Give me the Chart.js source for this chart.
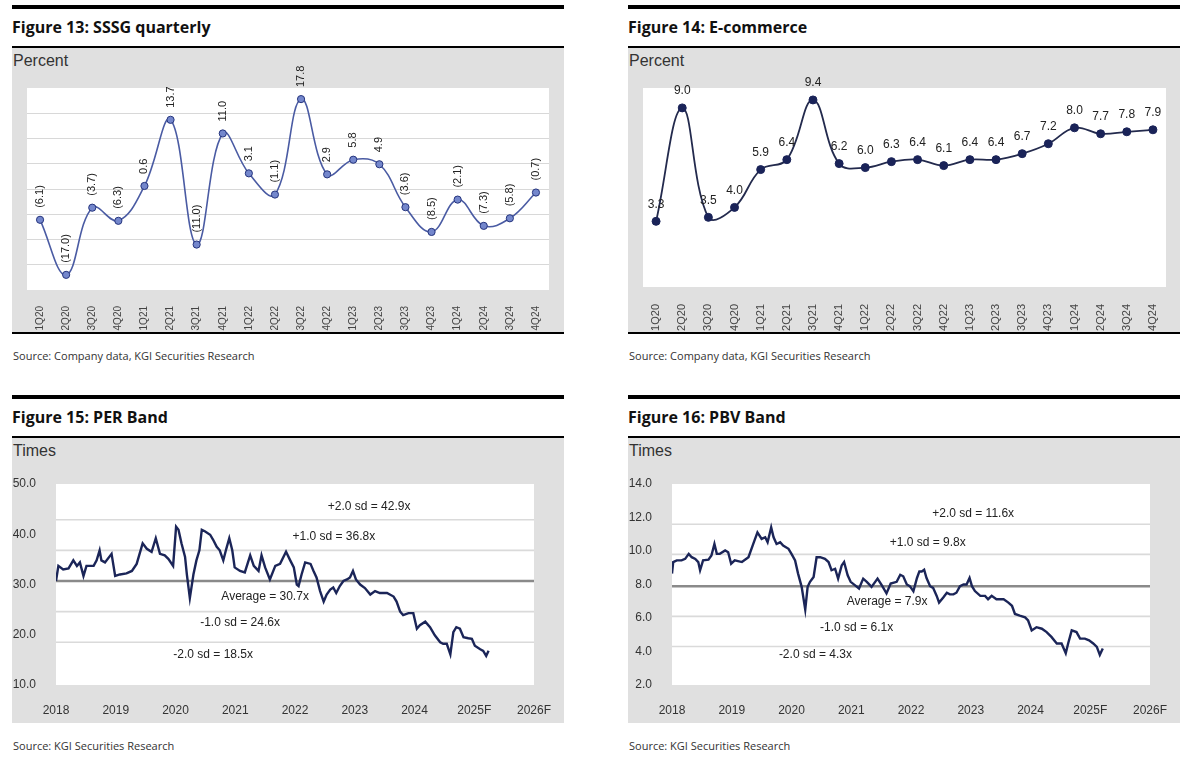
<!DOCTYPE html>
<html><head><meta charset="utf-8">
<script src="https://cdn.jsdelivr.net/npm/chart.js@4.4.1/dist/chart.umd.min.js"></script>
<style>
body{margin:0;background:#fff;width:1200px;height:766px;position:relative;overflow:hidden;font-family:"Liberation Sans",Arial,sans-serif;}
.bar{position:absolute;height:4px;width:552px;background:#000;}
.rule{position:absolute;height:2px;width:552px;background:#000;}
.title{position:absolute;font:bold 16px/22px "Open Sans",sans-serif;color:#111;white-space:nowrap;}
.box{position:absolute;background:#e0e0e0;width:552px;height:285px;}
.unit{position:absolute;font:16px/20px "Liberation Sans",sans-serif;color:#333;white-space:nowrap;}
.src{position:absolute;font:11px/16px "Open Sans",sans-serif;color:#333;white-space:nowrap;}
canvas{position:absolute;}
</style></head>
<body>
<div id="root"></div>
<script>
// ---------- DATA ----------
const quarters = ['1Q20','2Q20','3Q20','4Q20','1Q21','2Q21','3Q21','4Q21','1Q22','2Q22','3Q22','4Q22','1Q23','2Q23','3Q23','4Q23','1Q24','2Q24','3Q24','4Q24'];
const sssg = [-6.1,-17.0,-3.7,-6.3,0.6,13.7,-11.0,11.0,3.1,-1.1,17.8,2.9,5.8,4.9,-3.6,-8.5,-2.1,-7.3,-5.8,-0.7];
const ecommerce = [3.3,9.0,3.5,4.0,5.9,6.4,9.4,6.2,6.0,6.3,6.4,6.1,6.4,6.4,6.7,7.2,8.0,7.7,7.8,7.9];

const yearLabels = ['2018','2019','2020','2021','2022','2023','2024','2025F','2026F'];

const perYears = [2018.00,2018.04,2018.12,2018.21,2018.29,2018.35,2018.40,2018.46,2018.51,2018.63,2018.68,2018.73,2018.76,2018.82,2018.93,2018.99,
2019.07,2019.18,2019.27,2019.35,2019.45,2019.52,2019.60,2019.67,2019.74,2019.82,2019.88,2019.96,
2020.01,2020.05,2020.10,2020.16,2020.19,2020.24,2020.30,2020.35,2020.40,2020.44,2020.49,2020.58,2020.63,2020.69,2020.74,2020.80,2020.85,2020.90,2020.95,2020.99,
2021.08,2021.16,2021.25,2021.31,2021.39,2021.44,2021.50,2021.58,2021.67,2021.75,2021.85,2021.92,2021.98,
2022.03,2022.06,2022.11,2022.17,2022.26,2022.31,2022.36,2022.42,2022.48,2022.53,2022.59,2022.64,2022.69,2022.75,2022.81,2022.87,2022.92,2022.97,
2023.02,2023.09,2023.17,2023.26,2023.34,2023.42,2023.54,2023.65,2023.70,2023.76,2023.81,2023.90,2023.98,
2024.04,2024.09,2024.18,2024.26,2024.34,2024.43,2024.48,2024.54,2024.60,2024.65,2024.70,2024.76,2024.82,2024.90,2024.96,
2025.01,2025.10,2025.15,2025.20,2025.24];
const perValues = [30.7,33.7,33.0,33.2,34.8,33.7,34.4,31.7,33.7,33.7,34.8,36.8,34.8,34.4,36.1,31.7,
32.0,32.2,32.7,34.1,38.2,37.1,36.5,39.2,36.1,35.8,35.1,33.7,
41.5,40.9,38.2,35.5,32.0,27.3,32.0,34.8,36.8,40.9,40.6,39.9,38.9,37.5,36.8,34.8,37.1,39.2,36.8,33.4,
32.7,32.4,35.8,33.7,32.7,35.8,33.4,31.0,33.7,34.1,36.5,34.8,33.4,
30.0,29.7,32.0,34.4,34.1,32.7,31.4,28.7,26.6,28.0,29.0,29.4,28.3,29.7,30.7,31.0,31.4,32.7,
31.0,30.0,29.3,28.0,28.7,28.3,28.3,27.6,26.6,24.6,23.9,24.3,24.3,
21.2,21.9,22.6,21.5,19.9,18.5,18.2,18.2,16.1,20.5,21.5,21.2,19.5,19.3,19.2,
17.8,17.1,16.8,15.8,16.8];
const perBands = [42.9,36.8,30.7,24.6,18.5];

const pbvYears = [2018.00,2018.02,2018.08,2018.16,2018.22,2018.28,2018.33,2018.39,2018.44,2018.47,2018.52,2018.61,2018.66,2018.71,2018.75,2018.80,2018.89,2018.94,2018.99,
2019.05,2019.17,2019.28,2019.36,2019.43,2019.50,2019.56,2019.60,2019.66,2019.70,2019.75,2019.81,2019.86,2019.95,
2020.00,2020.06,2020.11,2020.17,2020.23,2020.27,2020.31,2020.37,2020.42,2020.48,2020.56,2020.62,2020.67,2020.73,2020.78,2020.84,2020.88,2020.94,2020.99,
2021.06,2021.13,2021.20,2021.26,2021.34,2021.44,2021.51,2021.59,2021.66,2021.76,2021.82,2021.87,2021.93,2021.98,
2022.04,2022.10,2022.14,2022.18,2022.22,2022.26,2022.32,2022.37,2022.43,2022.47,2022.54,2022.60,2022.65,2022.71,2022.76,2022.82,2022.88,2022.93,2022.98,
2023.02,2023.07,2023.16,2023.24,2023.29,2023.35,2023.43,2023.55,2023.63,2023.69,2023.74,2023.82,2023.91,2023.96,
2024.02,2024.10,2024.19,2024.27,2024.35,2024.44,2024.52,2024.59,2024.63,2024.69,2024.77,2024.83,2024.91,2024.98,
2025.05,2025.11,2025.16,2025.21];
const pbvValues = [8.65,9.34,9.44,9.44,9.53,9.83,9.63,9.53,9.34,8.85,9.44,9.48,9.73,10.42,9.83,9.83,10.03,9.93,9.24,
9.44,9.34,9.63,10.42,11.11,10.72,10.82,10.52,11.41,10.82,10.42,10.52,10.32,10.13,
9.83,9.44,8.65,7.86,6.5,7.86,8.16,8.45,9.63,9.63,9.53,9.34,8.85,8.94,8.35,9.14,9.34,8.55,8.16,
7.96,7.76,8.35,8.16,7.86,8.35,7.96,7.47,8.06,8.16,8.58,8.49,8.0,7.9,
7.6,8.39,8.78,8.78,8.88,8.39,7.9,7.8,7.32,6.92,7.22,7.51,7.41,7.41,7.51,7.9,8.0,8.0,8.39,
7.9,7.61,7.32,7.32,7.12,7.32,7.12,7.12,6.92,6.73,6.24,6.14,6.04,5.85,
5.26,5.45,5.36,5.16,4.87,4.48,4.48,3.9,4.48,5.26,5.16,4.77,4.77,4.67,
4.48,4.28,3.8,4.18];
const pbvBands = [11.6,9.8,7.9,6.1,4.3];
const bandNames = ['+2.0 sd = ','+1.0 sd = ','Average = ','-1.0 sd = ','-2.0 sd = '];

// ---------- LAYOUT ----------
const panels = [
  {x:12, y:5, title:'Figure 13: SSSG quarterly', unit:'Percent', src:'Source: Company data, KGI Securities Research', bottomRule:true},
  {x:628,y:5, title:'Figure 14: E-commerce', unit:'Percent', src:'Source: Company data, KGI Securities Research', bottomRule:true},
  {x:12, y:395, title:'Figure 15: PER Band', unit:'Times', src:'Source: KGI Securities Research', bottomRule:false},
  {x:628,y:395, title:'Figure 16: PBV Band', unit:'Times', src:'Source: KGI Securities Research', bottomRule:false}
];
const root = document.getElementById('root');
function el(cls, x, y, txt){const d=document.createElement('div');d.className=cls;d.style.left=x+'px';d.style.top=y+'px';if(txt)d.textContent=txt;root.appendChild(d);return d;}
const canvases = panels.map(p=>{
  el('bar',p.x,p.y);
  el('title',p.x,p.y+11,p.title);
  el('rule',p.x,p.y+41);
  el('box',p.x,p.y+43);
  el('unit',p.x+1,p.y+46,p.unit);
  if(p.bottomRule) el('rule',p.x,p.y+327);
  el('src',p.x+1,p.y+343,p.src);
  const c=document.createElement('canvas');c.width=552;c.height=285;c.style.left=p.x+'px';c.style.top=(p.y+43)+'px';root.appendChild(c);return c;
});

Chart.defaults.font.family = '"Liberation Sans", Arial, sans-serif';
Chart.defaults.color = '#333';

const plotBg = {id:'plotBg', beforeDraw(ch){const a=ch.chartArea,ctx=ch.ctx;ctx.save();ctx.fillStyle='#fff';ctx.fillRect(a.left,a.top,a.right-a.left,a.bottom-a.top);ctx.restore();}};
const fmtParen = v => v<0 ? '('+Math.abs(v).toFixed(1)+')' : v.toFixed(1);

const rotLabels = {id:'rotLabels', afterDatasetsDraw(ch){
  const ctx=ch.ctx, meta=ch.getDatasetMeta(0), vals=ch.data.datasets[0].data;
  ctx.save();ctx.font='11px "Liberation Sans", Arial';ctx.fillStyle='#222';ctx.textAlign='left';ctx.textBaseline='middle';
  meta.data.forEach((pt,i)=>{ctx.save();ctx.translate(pt.x,pt.y-12);ctx.rotate(-Math.PI/2);ctx.fillText(fmtParen(vals[i]),0,0);ctx.restore();});
  ctx.restore();}};
const flatLabels = {id:'flatLabels', afterDatasetsDraw(ch){
  const ctx=ch.ctx, meta=ch.getDatasetMeta(0), vals=ch.data.datasets[0].data;
  ctx.save();ctx.font='12px "Liberation Sans", Arial';ctx.fillStyle='#222';ctx.textAlign='center';ctx.textBaseline='middle';
  meta.data.forEach((pt,i)=>{ctx.fillText(vals[i].toFixed(1),pt.x,pt.y-17);});
  ctx.restore();}};

// Figure 13
new Chart(canvases[0], {
  type:'line',
  data:{labels:quarters, datasets:[{data:sssg, borderColor:'#4a5ba3', borderWidth:1.6, tension:0.4,
    pointRadius:3.6, pointBackgroundColor:'#7487cc', pointBorderColor:'#26357e', pointBorderWidth:1}]},
  options:{responsive:false, animation:false, layout:{padding:{left:15,right:15,top:40,bottom:0}},
    plugins:{legend:{display:false}, tooltip:{enabled:false}},
    scales:{
      x:{offset:true, grid:{display:false}, border:{display:false},
         ticks:{autoSkip:false,minRotation:90,maxRotation:90,padding:8,font:{size:10},color:'#444'},
         afterFit:s=>{s.height=43;}},
      y:{min:-20,max:20, ticks:{display:false,stepSize:5}, border:{display:false},
         grid:{drawTicks:false,lineWidth:1,color:c=>(Math.abs(c.tick.value)===20?'rgba(0,0,0,0)':'#d8d8d8')},
         afterFit:s=>{s.width=0;}}
    }},
  plugins:[plotBg, rotLabels]
});

// Figure 14
new Chart(canvases[1], {
  type:'line',
  data:{labels:quarters, datasets:[{data:ecommerce, borderColor:'#232a4d', borderWidth:1.8, tension:0.4,
    pointRadius:4, pointBackgroundColor:'#1a2358', pointBorderColor:'#1a2358', pointBorderWidth:1}]},
  options:{responsive:false, animation:false, layout:{padding:{left:15,right:14,top:40,bottom:0}},
    plugins:{legend:{display:false}, tooltip:{enabled:false}},
    scales:{
      x:{offset:true, grid:{display:false}, border:{display:false},
         ticks:{autoSkip:false,minRotation:90,maxRotation:90,padding:9,font:{size:11},color:'#444'},
         afterFit:s=>{s.height=46;}},
      y:{display:false, min:0, max:10}
    }},
  plugins:[plotBg, flatLabels]
});

// Band charts
function bandChart(canvas, years, values, bands, yMin, yMax, yStep, anchors, offsets){
  const n=Math.min(years.length, values.length);
  const xMin=2018, xMax=2018+yearLabels.length-1;
  const main={data:years.slice(0,n).map((x,i)=>({x:x,y:values[i]})), borderColor:'#1b2558', borderWidth:2.4, pointRadius:0, tension:0};
  const bandSets=bands.map((v,i)=>({data:[{x:xMin,y:v},{x:xMax,y:v}], borderColor:i===2?'#8a8a8a':'#dadada', borderWidth:i===2?2.6:1.6, pointRadius:0}));
  const bandLabels={id:'bandLabels', afterDatasetsDraw(ch){
    const ctx=ch.ctx, xs=ch.scales.x, ys=ch.scales.y;
    ctx.save();ctx.font='12px "Liberation Sans", Arial';ctx.fillStyle='#222';ctx.textAlign='center';ctx.textBaseline='middle';
    bands.forEach((v,i)=>{ctx.fillText(bandNames[i]+v.toFixed(1)+'x', xs.getPixelForValue(anchors[i]), ys.getPixelForValue(v)+offsets[i]);});
    ctx.restore();}};
  return new Chart(canvas, {
    type:'line',
    data:{datasets:[main, ...bandSets]},
    options:{responsive:false, animation:false, layout:{padding:{left:0,right:30,top:46,bottom:0}},
      plugins:{legend:{display:false}, tooltip:{enabled:false}},
      scales:{
        x:{type:'linear', min:xMin, max:xMax, grid:{display:false}, border:{display:false},
           ticks:{stepSize:1, padding:10, font:{size:12}, color:'#333', callback:v=>yearLabels[Math.round(v-xMin)]},
           afterFit:s=>{s.height=38;}},
        y:{min:yMin, max:yMax, grid:{display:false}, border:{display:false},
           ticks:{stepSize:yStep, padding:12, font:{size:12}, color:'#333', callback:v=>Number(v).toFixed(1)},
           afterFit:s=>{s.width=44;}}
      }},
    plugins:[plotBg, bandLabels]
  });
}
bandChart(canvases[2], perYears, perValues, perBands, 10, 50, 10,
  [2023.24,2022.65,2021.5,2021.08,2020.63], [-13,-14,16,11,12]);
bandChart(canvases[3], pbvYears, pbvValues, pbvBands, 2, 14, 2,
  [2023.04,2022.28,2021.6,2021.09,2020.4], [-11,-12,16,11,8]);
</script>
</body></html>
